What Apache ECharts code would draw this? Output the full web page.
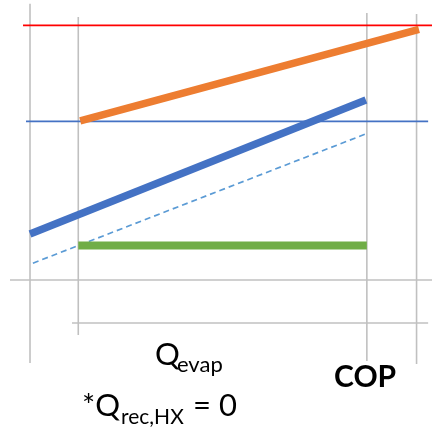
<!DOCTYPE html>
<html><head><meta charset="utf-8">
<script src="https://cdn.jsdelivr.net/npm/echarts@6/dist/echarts.min.js"></script>
<style>html,body{margin:0;padding:0;background:#fff}#c{width:432px;height:436px}</style>
</head><body><div id="c"></div>
<script>
// Schematic values (x in arbitrary units, y in arbitrary units)
var gridVerticals = [
  {x: 0.00, y0: -3.26, y1: 10.85},
  {x: 1.00, y0: -2.16, y1: 10.33},
  {x: 6.98, y0: -3.18, y1: 10.49},
  {x: 8.01, y0: -3.30, y1: 10.45}
];
var gridHorizontals = [
  {y: 0.00, x0: -0.415, x1: 8.33},
  {y: -1.69, x0: 0.87, x1: 8.25}
];
var redLine = [[-0.145, 10.0], [8.33, 10.0]];
var blueThin = [[-0.083, 6.23], [8.25, 6.23]];
var orangeLine = [[1.04, 6.25], [8.06, 9.85]];
var blueThick = [[0.0, 1.81], [6.96, 7.07]];
var blueDashed = [[0.06, 0.66], [6.96, 5.74]];
var greenLine = [[1.0, 1.35], [6.98, 1.35]];

var series = [];
gridVerticals.forEach(function (v) {
  series.push({type: 'line', data: [[v.x, v.y0], [v.x, v.y1]], symbol: 'none', silent: true,
    lineStyle: {color: '#c0c0c0', width: 1.6}, z: 1});
});
gridHorizontals.forEach(function (h) {
  series.push({type: 'line', data: [[h.x0, h.y], [h.x1, h.y]], symbol: 'none', silent: true,
    lineStyle: {color: '#c0c0c0', width: 1.6}, z: 1});
});
series.push({type: 'line', data: redLine, symbol: 'none', lineStyle: {color: '#ff0000', width: 1.8}, z: 2});
series.push({type: 'line', data: blueThin, symbol: 'none', lineStyle: {color: '#4472c4', width: 1.6}, z: 2});
series.push({type: 'line', data: blueDashed, symbol: 'none', lineStyle: {color: '#5b9bd5', width: 1.7, type: [6, 4]}, z: 3});
series.push({type: 'line', data: greenLine, symbol: 'none', lineStyle: {color: '#70ad47', width: 8, cap: 'butt'}, z: 4});
series.push({type: 'line', data: blueThick, symbol: 'none', lineStyle: {color: '#4472c4', width: 7.5, cap: 'butt'}, z: 4});
series.push({type: 'line', data: orangeLine, symbol: 'none', lineStyle: {color: '#ed7d31', width: 7.5, cap: 'butt'}, z: 4});

var chart = echarts.init(document.getElementById('c'), null, {renderer: 'canvas'});
var F = 'Lato, "Open Sans", sans-serif';
chart.setOption({
  animation: false,
  grid: {left: 0, right: 0, top: 0, bottom: 0},
  xAxis: {type: 'value', min: -0.622, max: 8.33, show: false},
  yAxis: {type: 'value', min: -6.13, max: 11.0, show: false},
  series: series,
  graphic: [
    {type: 'text', left: 155, top: 339, style: {text: 'Q', fontSize: 31, fontFamily: F, fill: '#000'}},
    {type: 'text', left: 177, top: 354, style: {text: 'evap', fontSize: 22, fontFamily: F, fill: '#000'}},
    {type: 'text', left: 334, top: 362, style: {text: 'COP', fontSize: 30, fontWeight: 'bold', fontFamily: F, fill: '#000'}},
    {type: 'text', left: 82, top: 390, style: {text: '*Q', fontSize: 31, fontFamily: F, fill: '#000'}},
    {type: 'text', left: 121, top: 407, style: {text: 'rec,HX', fontSize: 21, fontFamily: F, fill: '#000'}},
    {type: 'text', left: 193, top: 390, style: {text: '= 0', fontSize: 31, fontFamily: F, fill: '#000'}}
  ]
});
</script></body></html>
